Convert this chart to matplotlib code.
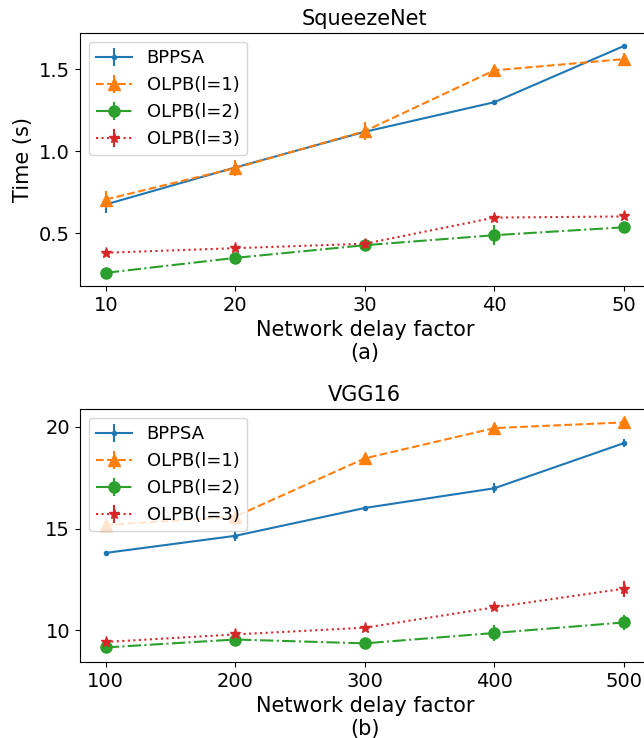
'''Time vs network delay factor for SqueezeNet and VGG16.'''

import matplotlib
matplotlib.use("Agg")
import matplotlib.pyplot as plt

labels = ["BPPSA", "OLPB(l=1)", "OLPB(l=2)", "OLPB(l=3)"]
styles = ["-", "--", "-.", ":"]
markers = [".", "^", "o", "*"]

# SqueezeNet
x_a = [10, 20, 30, 40, 50]
sq_bppsa = [0.676, 0.901, 1.118, 1.298, 1.640]
sq_l1 = [0.706, 0.898, 1.122, 1.492, 1.560]
sq_l2 = [0.260, 0.351, 0.428, 0.489, 0.537]
sq_l3 = [0.382, 0.410, 0.437, 0.596, 0.603]
sq_bppsa_err = [0.05, 0.01, 0.01, 0.01, 0.01]
sq_l1_err = [0.05, 0.05, 0.055, 0.035, 0.04]
sq_l2_err = [0.01, 0.01, 0.01, 0.06, 0.01]
sq_l3_err = [0.01, 0.01, 0.01, 0.01, 0.01]

# VGG16
x_b = [100, 200, 300, 400, 500]
vgg_bppsa = [13.80, 14.64, 16.01, 16.98, 19.20]
vgg_l1 = [15.17, 15.59, 18.45, 19.94, 20.22]
vgg_l2 = [9.15, 9.54, 9.35, 9.86, 10.38]
vgg_l3 = [9.42, 9.79, 10.12, 11.12, 12.04]
vgg_bppsa_err = [0.1, 0.25, 0.05, 0.25, 0.2]
vgg_l1_err = [0.1, 0.1, 0.1, 0.1, 0.1]
vgg_l2_err = [0.15, 0.1, 0.1, 0.4, 0.35]
vgg_l3_err = [0.1, 0.1, 0.1, 0.1, 0.4]

fig = plt.figure(figsize=(6.44, 7.38), dpi=100)
ax1 = fig.add_axes([0.124, 0.6125, 0.885, 0.343])
ax2 = fig.add_axes([0.124, 0.103, 0.885, 0.343])

panels = [
    (ax1, x_a, [sq_bppsa, sq_l1, sq_l2, sq_l3],
     [sq_bppsa_err, sq_l1_err, sq_l2_err, sq_l3_err], "SqueezeNet", "(a)"),
    (ax2, x_b, [vgg_bppsa, vgg_l1, vgg_l2, vgg_l3],
     [vgg_bppsa_err, vgg_l1_err, vgg_l2_err, vgg_l3_err], "VGG16", "(b)"),
]

for ax, x, ys, errs, title, tag in panels:
    for y, e, lab, ls, mk in zip(ys, errs, labels, styles, markers):
        ax.errorbar(x, y, yerr=e, label=lab, linestyle=ls, marker=mk,
                    markersize=8 if mk != "." else 6)
    ax.set_xticks(x)
    ax.set_title(title, fontsize=15)
    ax.set_xlabel("Network delay factor\n" + tag, fontsize=15)
    ax.tick_params(labelsize=14)
    ax.legend(loc="upper left", fontsize=13)

ax1.set_ylabel("Time (s)", fontsize=15)
ax2.set_yticks([10, 15, 20])

fig.savefig("out.png", dpi=100)
